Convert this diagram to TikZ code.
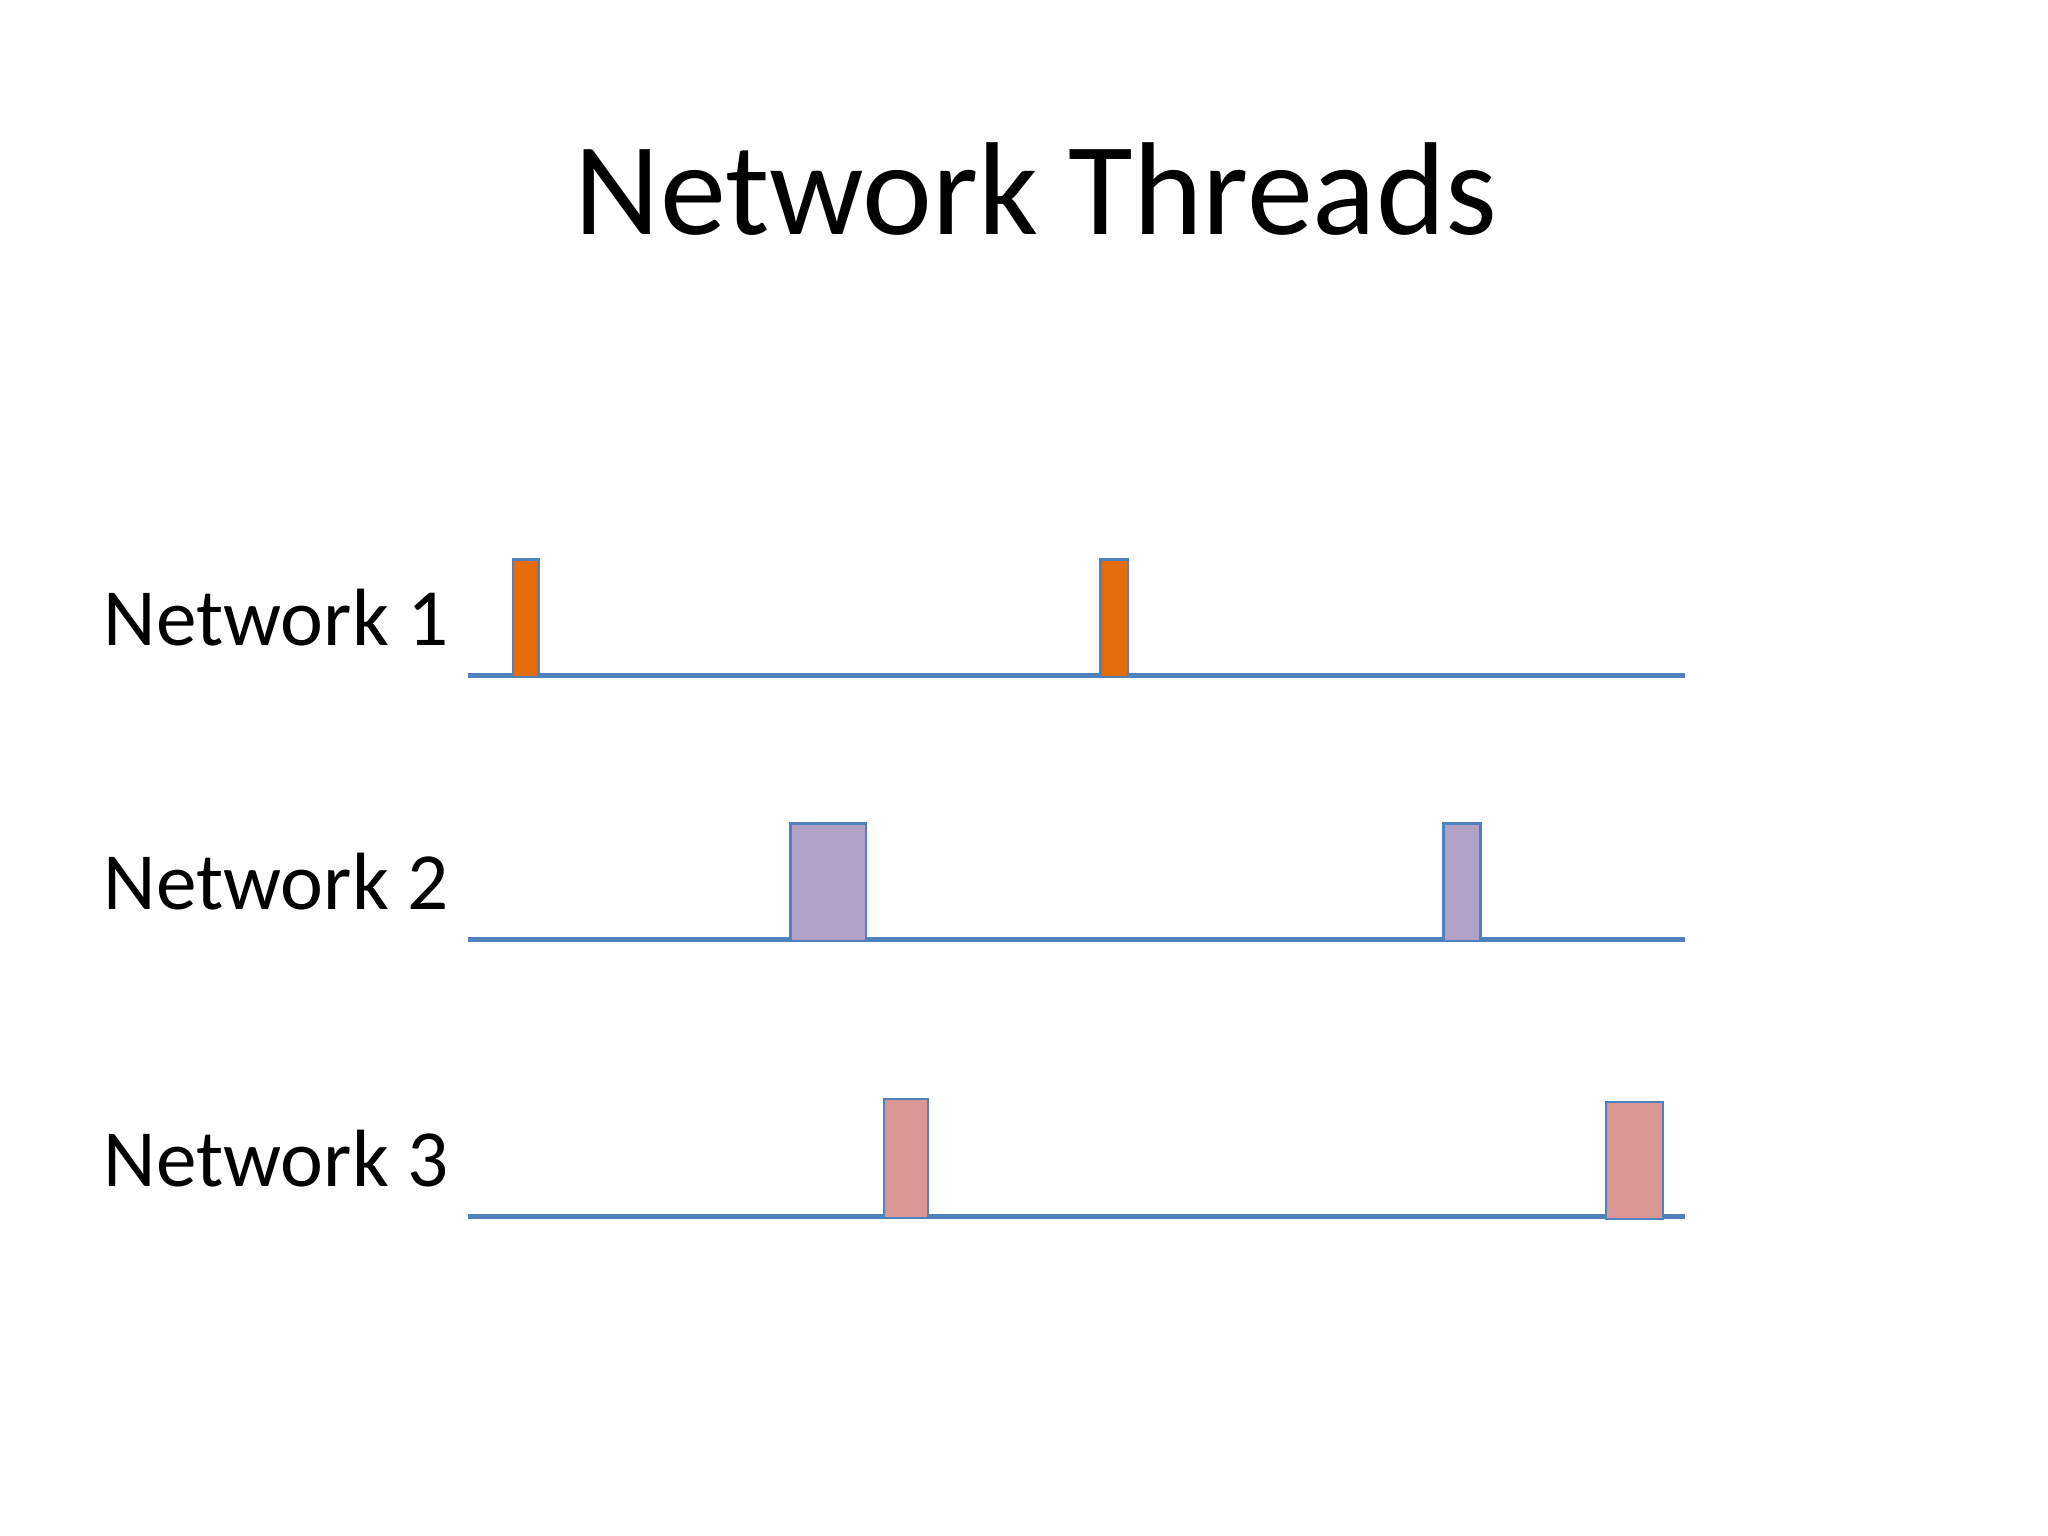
\documentclass[tikz,border=0pt]{standalone}
\usepackage{fontspec}
\setmainfont{Carlito}
\definecolor{lineblue}{RGB}{79,129,189}
\definecolor{orangebar}{RGB}{228,108,10}
\definecolor{purplebar}{RGB}{178,161,199}
\definecolor{pinkbar}{RGB}{217,150,148}
\begin{document}
\begin{tikzpicture}[x=0.01cm,y=-0.01cm,
  timeline/.style={draw=lineblue,line width=1.1pt},
  bar/.style={draw=lineblue,line width=0.5pt},
  lab/.style={anchor=base west,inner sep=0pt,font=\fontsize{17.5}{20}\selectfont}]
\useasboundingbox (0,0) rectangle (1552,1164);
\node[anchor=base,inner sep=0pt,font=\fontsize{28.5}{32}\selectfont] (title) at (785,178) {Network Threads};
\node[lab] (l1) at (78,489) {Network 1};
\node[lab] (l2) at (78,689) {Network 2};
\node[lab] (l3) at (78,899) {Network 3};
\coordinate (a1) at (355,512); \coordinate (b1) at (1277,512);
\coordinate (a2) at (355,712); \coordinate (b2) at (1277,712);
\coordinate (a3) at (355,922); \coordinate (b3) at (1277,922);
\draw[timeline] (a1) -- (b1);
\draw[timeline] (a2) -- (b2);
\draw[timeline] (a3) -- (b3);
\draw[bar,fill=orangebar] (389,424) rectangle (408,513);
\draw[bar,fill=orangebar] (834,424) rectangle (855,513);
\draw[bar,fill=purplebar] (599,624) rectangle (656,713);
\draw[bar,fill=purplebar] (1094,624) rectangle (1122,713);
\draw[bar,fill=pinkbar] (670,833) rectangle (703,923);
\draw[bar,fill=pinkbar] (1217,835) rectangle (1260,924);
\end{tikzpicture}
\end{document}
